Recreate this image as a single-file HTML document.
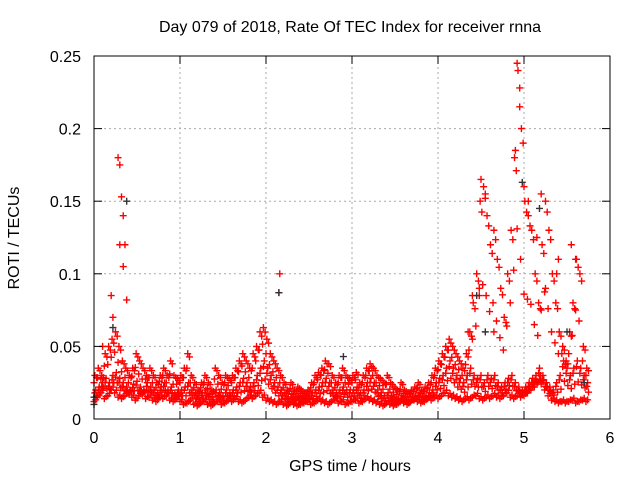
<!DOCTYPE html>
<html><head><meta charset="utf-8"><style>
body{margin:0;background:#fff}
svg{display:block;font-family:"Liberation Sans",sans-serif}
</style></head><body>
<svg id="chart" width="640" height="480">
<rect width="640" height="480" fill="#fff"/>
<text x="350" y="32" font-size="16" text-anchor="middle">Day 079 of 2018, Rate Of TEC Index for receiver rnna</text>
<text x="350" y="471" font-size="16" text-anchor="middle">GPS time / hours</text>
<text transform="translate(19,238) rotate(-90)" font-size="16" text-anchor="middle">ROTI / TECUs</text>
<g id="grid"></g><g id="pts"></g><g id="axes"></g>
</svg>
<script>
const times=[];for(let i=0;i<144;i++)times.push(+(i*0.04).toFixed(2));
const upperBand=[0.03,0.035,0.03,0.045,0.05,0.055,0.06,0.05,
0.04,0.035,0.03,0.035,0.045,0.04,0.035,0.03,0.035,0.03,0.025,0.03,0.035,0.03,0.04,0.03,0.028,
0.03,0.035,0.045,0.03,0.025,0.02,0.025,0.03,0.025,0.02,0.035,0.03,0.025,0.03,0.028,0.03,0.035,0.04,0.045,0.04,0.035,0.045,0.05,0.06,0.063,
0.055,0.045,0.04,0.035,0.03,0.025,0.02,0.025,0.02,0.022,0.02,0.018,0.02,0.025,0.03,0.032,0.035,0.04,0.038,0.03,0.025,0.03,0.035,0.03,0.028,
0.03,0.032,0.025,0.03,0.035,0.038,0.035,0.03,0.028,0.025,0.03,0.025,0.022,0.02,0.025,0.02,0.018,0.02,0.022,0.025,0.02,0.022,0.025,0.03,0.035,
0.04,0.045,0.05,0.055,0.05,0.045,0.04,0.035,0.045,0.06,0.08,0.1,0.15,0.16,0.14,0.12,0.13,0.11,0.09,0.07,0.1,0.13,0.18,0.24,0.2,
0.15,0.14,0.13,0.1,0.08,0.12,0.15,0.13,0.1,0.08,0.06,0.05,0.04,0.06,0.08,0.11,0.1,0.05,0.035];
const lowerBand=[0.012,0.015,0.018,0.014,0.016,0.02,0.018,0.015,0.014,0.016,0.018,0.015,0.013,0.016,0.017,0.014,0.015,0.013,0.012,0.015,0.014,0.016,0.013,0.012,0.014,
0.012,0.01,0.011,0.013,0.01,0.009,0.011,0.012,0.01,0.009,0.011,0.012,0.01,0.011,0.013,0.012,0.014,0.012,0.011,0.013,0.015,0.014,0.016,0.018,0.015,
0.013,0.012,0.011,0.01,0.012,0.01,0.009,0.011,0.01,0.009,0.01,0.011,0.012,0.01,0.011,0.013,0.012,0.011,0.01,0.012,0.013,0.011,0.012,0.01,0.011,
0.012,0.013,0.011,0.012,0.014,0.013,0.012,0.011,0.01,0.009,0.011,0.01,0.009,0.01,0.012,0.011,0.01,0.012,0.013,0.012,0.011,0.012,0.014,0.013,0.015,
0.014,0.016,0.018,0.016,0.015,0.014,0.013,0.012,0.014,0.013,0.015,0.016,0.014,0.013,0.015,0.014,0.016,0.015,0.014,0.016,0.018,0.015,0.014,0.016,0.015,
0.016,0.018,0.02,0.022,0.025,0.024,0.02,0.016,0.013,0.012,0.011,0.012,0.011,0.012,0.013,0.011,0.012,0.013,0.012];
const midBand=[0.02,0.022,0.025,0.028,0.025,0.03,0.032,0.028,0.025,0.022,0.02,0.024,0.026,0.022,0.02,0.025,0.022,0.02,0.018,0.022,0.025,0.02,0.022,0.018,0.02,
0.02,0.022,0.025,0.02,0.018,0.015,0.018,0.02,0.017,0.015,0.02,0.018,0.016,0.02,0.018,0.02,0.022,0.025,0.028,0.025,0.022,0.025,0.03,0.035,0.04,
0.035,0.03,0.025,0.022,0.02,0.018,0.015,0.017,0.015,0.016,0.015,0.014,0.015,0.018,0.02,0.022,0.025,0.028,0.025,0.02,0.018,0.02,0.022,0.02,0.02,
0.02,0.022,0.018,0.02,0.025,0.028,0.025,0.02,0.018,0.016,0.018,0.016,0.015,0.014,0.016,0.015,0.013,0.015,0.016,0.018,0.015,0.016,0.018,0.02,0.025,
0.028,0.03,0.035,0.04,0.035,0.03,0.028,0.025,0.03,0.035,0.03,0.028,0.03,0.025,0.03,0.028,0.03,0.025,0.022,0.025,0.028,0.03,0.025,0.022,0.02,
0.022,0.025,0.028,0.03,0.035,0.03,0.025,0.022,0.02,0.025,0.03,0.04,0.035,0.03,0.035,0.04,0.035,0.03,0.025];
const spikeT=[0.2,0.22,0.28,0.3,0.32,0.34,0.36,0.34,0.38,0.3,0.1,2.15,2.16,4.35,4.4,4.48,4.5,4.55,4.65,4.9,4.92,4.95,5.0,5.05,5.15,5.2,5.25,5.38,5.4,5.55,5.6];
const spikeV=[0.085,0.07,0.18,0.175,0.153,0.14,0.12,0.105,0.082,0.12,0.05,0.087,0.1,0.06,0.085,0.085,0.165,0.155,0.06,0.185,0.245,0.215,0.16,0.15,0.125,0.155,0.09,0.1,0.11,0.12,0.11];
const blackT=[0.0,0.0,0.22,0.38,2.15,2.9,4.45,4.55,4.98,5.18,5.5,5.7];
const blackV=[0.01,0.015,0.063,0.15,0.087,0.043,0.085,0.06,0.163,0.145,0.06,0.025];
const yTicks=[0,0.05,0.1,0.15,0.2,0.25],yLabels=["0","0.05","0.1","0.15","0.2","0.25"];
const xTicks=[0,1,2,3,4,5,6];
const X0=94,X1=610,Y0=419,Y1=56;
const sx=t=>X0+t/6*(X1-X0), sy=v=>Y0-v/0.25*(Y0-Y1);
const NS="http://www.w3.org/2000/svg";
function mk(tag,a,parent){const e=document.createElementNS(NS,tag);for(const k in a)e.setAttribute(k,a[k]);parent.appendChild(e);return e;}
const grid=document.getElementById('grid'),axes=document.getElementById('axes'),pts=document.getElementById('pts');
yTicks.forEach((v,i)=>{const y=sy(v);
 if(i>0&&i<yTicks.length-1){const g=mk('line',{x1:X0,x2:X1,y1:y,y2:y,stroke:'#aaa','stroke-dasharray':'2,3'},grid);}
 mk('line',{x1:X0,x2:X0+8,y1:y,y2:y,stroke:'#000'},axes);mk('line',{x1:X1,x2:X1-8,y1:y,y2:y,stroke:'#000'},axes);
 const t=mk('text',{x:X0-13,y:y+6,'font-size':16,'text-anchor':'end'},axes);t.textContent=yLabels[i];
 });
xTicks.forEach((v,i)=>{const x=sx(v);
 if(i>0&&i<xTicks.length-1){const g=mk('line',{x1:x,x2:x,y1:Y0,y2:Y1,stroke:'#aaa','stroke-dasharray':'2,3'},grid);}
 mk('line',{x1:x,x2:x,y1:Y0,y2:Y0-8,stroke:'#000'},axes);mk('line',{x1:x,x2:x,y1:Y1,y2:Y1+8,stroke:'#000'},axes);
 const t=mk('text',{x:x,y:Y0+24,'font-size':16,'text-anchor':'middle'},axes);t.textContent=String(v);
 });
const frame=mk('rect',{x:X0,y:Y1,width:X1-X0,height:Y0-Y1,fill:'none',stroke:'#000'},axes);

function plus(t,v,color,name){const x=sx(t),y=sy(v);
 const p=mk('path',{d:`M${x-3.5},${y}h7M${x},${y-3.5}v7`,stroke:color,'stroke-width':1.4,fill:'none'},pts);
 }
times.forEach((t,i)=>{
 plus(t,lowerBand[i],'#f00','roti-point');plus(t+0.02,lowerBand[i]*1.1,'#f00','roti-point');
 plus(t+0.02,midBand[i],'#f00','roti-point');plus(t+0.01,midBand[i]*0.9,'#f00','roti-point');
 plus(t+0.01,upperBand[i],'#f00','roti-point');plus(t+0.03,upperBand[i]*0.95,'#f00','roti-point');
 plus(t+0.03,(lowerBand[i]+midBand[i])/2,'#f00','roti-point');plus(t,(midBand[i]+upperBand[i])/2,'#f00','roti-point');});
spikeT.forEach((t,i)=>plus(t,spikeV[i],'#f00','roti-spike-point'));
blackT.forEach((t,i)=>plus(t,blackV[i],'#333','roti-alt-point'));
</script>
</body></html>
